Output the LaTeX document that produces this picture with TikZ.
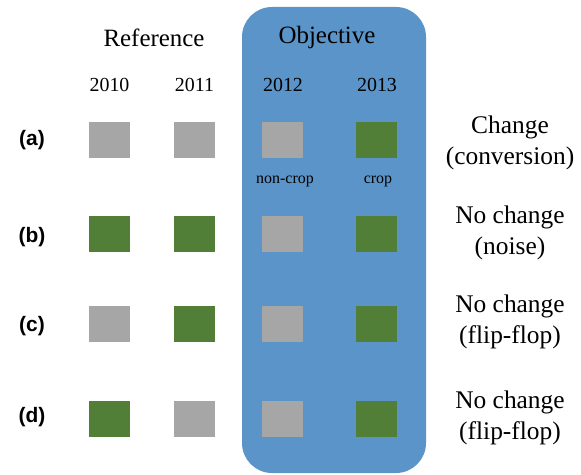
\documentclass[tikz,border=0pt]{standalone}
\usepackage{fontspec}
\setmainfont{Liberation Serif}
\newfontfamily\lblfont{Liberation Sans}
\definecolor{objblue}{HTML}{5A94C9}
\definecolor{cropgreen}{HTML}{527F37}
\definecolor{noncropgray}{HTML}{A6A6A6}
\tikzset{
  cell/.style={minimum width=41bp, minimum height=36bp, inner sep=0pt, draw=none},
  crop/.style={cell, fill=cropgreen},
  noncrop/.style={cell, fill=noncropgray},
  title/.style={font=\fontsize{25}{29}\selectfont, inner sep=0pt},
  year/.style={font=\fontsize{20}{23}\selectfont, inner sep=0pt},
  small/.style={font=\fontsize{16}{19}\selectfont, inner sep=0pt},
  rowlbl/.style={font=\lblfont\bfseries\fontsize{21}{24}\selectfont, inner sep=0pt},
  result/.style={font=\fontsize{25.5}{31}\selectfont, align=center, inner sep=0pt},
}
\begin{document}
\begin{tikzpicture}[x=1bp,y=-1bp]
\useasboundingbox (0,0) rectangle (581,475);
\fill[objblue, rounded corners=30bp] (242,7) rectangle (426,473);
\node[title] (tref) at (154,38) {Reference};
\node[title] (tobj) at (327,38) {Objective};
\node[year] (y1) at (109.5,85) {2010};
\node[year] (y2) at (194.5,85) {2011};
\node[year] (y3) at (283,85) {2012};
\node[year] (y4) at (377,85) {2013};
% row a
\node[rowlbl] (la) at (32,140) {(a)};
\node[noncrop] (a1) at (109.5,140) {};
\node[noncrop] (a2) at (194.5,140) {};
\node[noncrop] (a3) at (282.5,140) {};
\node[crop] (a4) at (376.5,140) {};
\node[small] (nc) at (285,181) {non-crop};
\node[small] (cr) at (378,181) {crop};
\node[result] (ra) at (510,143) {Change\\(conversion)};
% row b
\node[rowlbl] (lb) at (32,237) {(b)};
\node[crop] (b1) at (109.5,234) {};
\node[crop] (b2) at (194.5,234) {};
\node[noncrop] (b3) at (282.5,234) {};
\node[crop] (b4) at (376.5,234) {};
\node[result] (rb) at (510,233) {No change\\(noise)};
% row c
\node[rowlbl] (lc) at (32,326) {(c)};
\node[noncrop] (c1) at (109.5,324) {};
\node[crop] (c2) at (194.5,324) {};
\node[noncrop] (c3) at (282.5,324) {};
\node[crop] (c4) at (376.5,324) {};
\node[result] (rc) at (510,322) {No change\\(flip-flop)};
% row d
\node[rowlbl] (ld) at (32,417) {(d)};
\node[crop] (d1) at (109.5,419) {};
\node[noncrop] (d2) at (194.5,419) {};
\node[noncrop] (d3) at (282.5,419) {};
\node[crop] (d4) at (376.5,419) {};
\node[result] (rd) at (510,418) {No change\\(flip-flop)};
\end{tikzpicture}
\end{document}
